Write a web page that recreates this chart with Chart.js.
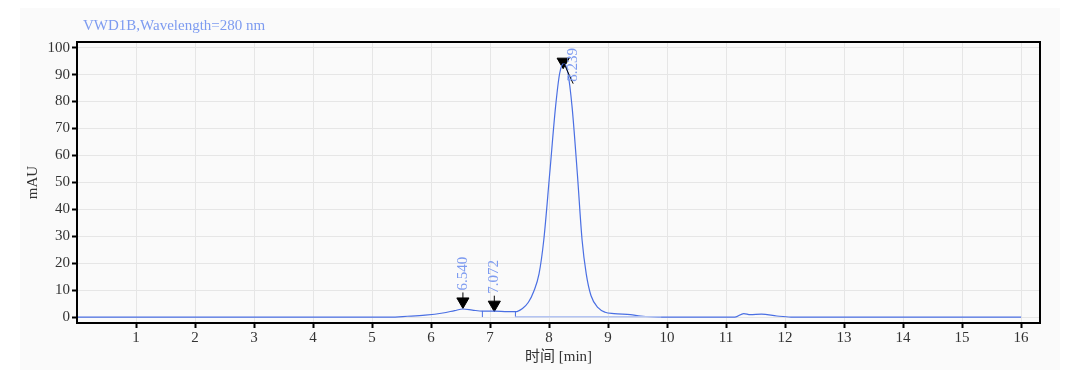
<!DOCTYPE html>
<html>
<head>
<meta charset="utf-8">
<script src="https://cdn.jsdelivr.net/npm/chart.js@4.4.1/dist/chart.umd.min.js"></script>
<style>
  html, body { margin: 0; padding: 0; background: #fff; }
  #wrap { position: relative; width: 1078px; height: 377px; }
</style>
</head>
<body>
<div id="wrap"><canvas id="chart" width="1078" height="377"></canvas></div>
<script>
// Chromatogram VWD1B, 280 nm
const times = [0, 5.3, 5.6, 5.9, 6.2, 6.4, 6.54, 6.7, 6.87, 7.07, 7.3, 7.43, 7.55, 7.65, 7.74, 7.83, 7.91, 8.01, 8.11, 8.18, 8.25, 8.32, 8.39, 8.48, 8.56, 8.63, 8.71, 8.83, 8.95, 9.1, 9.38, 9.55, 9.85, 11.15, 11.3, 11.41, 11.6, 11.86, 12.1, 16.0];
const signal = [0, 0, 0.3, 0.7, 1.5, 2.4, 3.0, 2.6, 2.2, 2.2, 2.0, 2.0, 3.2, 5.5, 9.5, 16, 28.5, 53, 78, 90.5, 94.2, 90.5, 78, 53, 28.5, 16, 8, 3.5, 1.8, 1.3, 0.9, 0.4, 0, 0, 1.3, 0.9, 1.1, 0.4, 0, 0];

// integration marks
const peakTimes = [6.540, 7.072, 8.239];
const peakLabels = ['6.540', '7.072', '8.239'];
const markerY = [5.8, 4.6, 94.8];
const dropTimes = [6.87, 7.43];
const dropHeights = [2.3, 2.0];
const baseTimes = [7.43, 9.9];
const baseValues = [0.15, 0.15];

const xTicks = [1, 2, 3, 4, 5, 6, 7, 8, 9, 10, 11, 12, 13, 14, 15, 16];
const yTicks = [0, 10, 20, 30, 40, 50, 60, 70, 80, 90, 100];

const FONT = "'Liberation Serif', 'Noto Sans CJK SC', serif";
const BLUE = '#4a6fe3';
const LABEL_BLUE = '#7d9bf0';

const dropData = [];
dropTimes.forEach((t, i) => {
    dropData.push({ x: t, y: 0 }, { x: t, y: dropHeights[i] }, { x: t, y: null });
});

const frame = {
    id: 'frame',
    beforeDraw(chart) {
        const c = chart.ctx;
        c.save();
        c.fillStyle = '#fafafa';
        c.fillRect(20, 8, 1040, 362);
        c.restore();
    },
    afterDraw(chart) {
        const c = chart.ctx;
        const a = chart.chartArea;
        const xs = chart.scales.x, ys = chart.scales.y;
        c.save();
        c.strokeStyle = '#000';
        c.lineWidth = 2;
        c.strokeRect(a.left, a.top, a.right - a.left, a.bottom - a.top);

        // title and axis titles
        c.fillStyle = LABEL_BLUE;
        c.font = '15px ' + FONT;
        c.textBaseline = 'middle';
        c.textAlign = 'left';
        c.fillText('VWD1B,Wavelength=280 nm', 83, 26);
        c.fillStyle = '#333';
        c.textAlign = 'center';
        c.fillText('时间 [min]', (a.left + a.right) / 2, 357);
        c.save();
        c.translate(33, (a.top + a.bottom) / 2);
        c.rotate(-Math.PI / 2);
        c.fillText('mAU', 0, 0);
        c.restore();

        // peak labels
        c.font = '15px ' + FONT;
        c.fillStyle = LABEL_BLUE;
        c.strokeStyle = '#000';
        c.lineWidth = 1;
        peakTimes.forEach((t, i) => {
            const px = xs.getPixelForValue(t);
            const py = ys.getPixelForValue(markerY[i]);
            let lx = px, ly = py - 9;
            if (i === 2) {
                lx = px + 10; ly = py + 22;
            }
            c.beginPath();
            c.moveTo(px, py);
            c.lineTo(lx, ly);
            c.stroke();
            c.save();
            c.translate(lx, ly);
            c.rotate(-Math.PI / 2);
            c.textAlign = 'left';
            c.textBaseline = 'middle';
            c.fillText(peakLabels[i], 2, 0);
            c.restore();
        });
        c.restore();
    }
};

new Chart(document.getElementById('chart'), {
    type: 'line',
    data: {
        datasets: [
            {
                label: 'baseline',
                data: baseTimes.map((t, i) => ({ x: t, y: baseValues[i] })),
                borderColor: '#b4c4f2',
                borderWidth: 1.5,
                pointRadius: 0
            },
            {
                label: 'drops',
                data: dropData,
                borderColor: BLUE,
                borderWidth: 1,
                pointRadius: 0,
                spanGaps: false
            },
            {
                label: 'VWD1B',
                data: times.map((t, i) => ({ x: t, y: signal[i] })),
                borderColor: BLUE,
                borderWidth: 1.2,
                pointRadius: 0,
                cubicInterpolationMode: 'monotone'
            },
            {
                label: 'markers',
                data: peakTimes.map((t, i) => ({ x: t, y: markerY[i] })),
                showLine: false,
                pointStyle: 'triangle',
                rotation: 180,
                pointRadius: 7,
                backgroundColor: '#000',
                borderColor: '#000',
                borderWidth: 1
            }
        ]
    },
    options: {
        responsive: false,
        animation: false,
        events: [],
        layout: { padding: { left: 0, right: 38, top: 42, bottom: 0 } },
        plugins: { legend: { display: false }, tooltip: { enabled: false } },
        scales: {
            x: {
                type: 'linear',
                min: 0,
                max: 16.32,
                afterFit: s => { s.height = 54; },
                afterBuildTicks: s => { s.ticks = xTicks.map(v => ({ value: v })); },
                ticks: {
                    color: '#333',
                    font: { family: FONT, size: 15 },
                    padding: 1,
                    maxRotation: 0
                },
                grid: { color: '#e6e6e6', tickColor: '#000', tickLength: 5, tickWidth: 2 },
                border: { color: '#000', width: 2 }
            },
            y: {
                type: 'linear',
                min: -2.2,
                max: 102.1,
                afterFit: s => { s.width = 77; },
                afterBuildTicks: s => { s.ticks = yTicks.map(v => ({ value: v })); },
                ticks: {
                    color: '#333',
                    font: { family: FONT, size: 15 },
                    padding: 2
                },
                grid: { color: '#e6e6e6', tickColor: '#000', tickLength: 5, tickWidth: 2 },
                border: { color: '#000', width: 2 }
            }
        }
    },
    plugins: [frame]
});
</script>
</body>
</html>
